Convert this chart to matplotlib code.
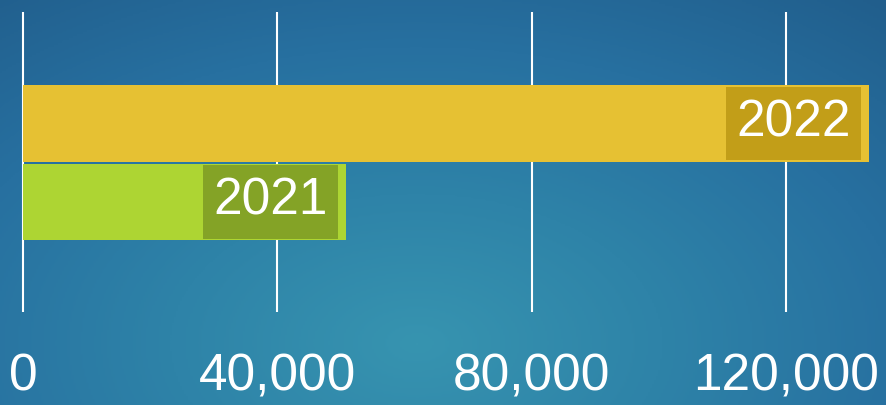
import numpy as np
import matplotlib
matplotlib.use("Agg")
import matplotlib.pyplot as plt
from matplotlib.colors import LinearSegmentedColormap
from matplotlib.patches import Rectangle

# Data
years = ["2021", "2022"]
values = [50800, 133000]
bar_colors = ["#ADD533", "#E6C133"]
box_colors = ["#84A326", "#C29E18"]
xticks = [0, 40000, 80000, 120000]
xtick_labels = ["0", "40,000", "80,000", "120,000"]

W, H = 887, 405
fig = plt.figure(figsize=(W / 100, H / 100), dpi=100)

# Background gradient
bg = fig.add_axes([0, 0, 1, 1], zorder=0)
bg.set_axis_off()
yy, xx = np.mgrid[0:1:200j, 0:1:440j]
cx, cy = 0.47, 0.85  # y measured from top
d = np.sqrt(((xx - cx) / 0.75) ** 2 + ((yy - cy) / 1.0) ** 2)
d = np.clip(d / d.max(), 0, 1)
cmap = LinearSegmentedColormap.from_list(
    "bg", ["#3794b0", "#2e83a8", "#2770a0", "#215e8c"])
bg.imshow(d, cmap=cmap, aspect="auto", extent=[0, 1, 0, 1], origin="upper")
bg.set_xlim(0, 1)
bg.set_ylim(0, 1)

# Main axes
ax = fig.add_axes([0, (H - 312) / H, 1, 300 / H], zorder=1)
ax.patch.set_alpha(0)
px_per_unit = 254.3 / 40000
x0_px = 23
xmin = -x0_px / px_per_unit
xmax = (W - x0_px) / px_per_unit
ax.set_xlim(xmin, xmax)
ax.set_ylim(-1.401, 2.42)

ypos = np.arange(len(years))
ax.barh(ypos, values, height=0.98, color=bar_colors, zorder=3)

for x in xticks:
    ax.axvline(x, color="white", lw=1.5, zorder=2)

# Labels in boxes
data_per_px = 1 / px_per_unit
box_w = 135 * data_per_px
gap = 7.5 * data_per_px
box_h = 0.93
for y, v, bc, lab in zip(ypos, values, box_colors, years):
    right = v - gap
    ax.add_patch(Rectangle((right - box_w, y - box_h / 2), box_w, box_h,
                           facecolor=bc, edgecolor="none", zorder=4))
    ax.text(right - box_w / 2, y + 0.01, lab, ha="center", va="center",
            color="white", fontsize=37, family="Liberation Sans", zorder=5)

ax.set_xticks(xticks)
ax.set_xticklabels(xtick_labels, fontsize=37, color="white",
                   family="Liberation Sans")
ax.tick_params(axis="x", length=0, pad=29.5)
ax.set_yticks([])
for s in ax.spines.values():
    s.set_visible(False)

fig.savefig("out.png", dpi=100)
